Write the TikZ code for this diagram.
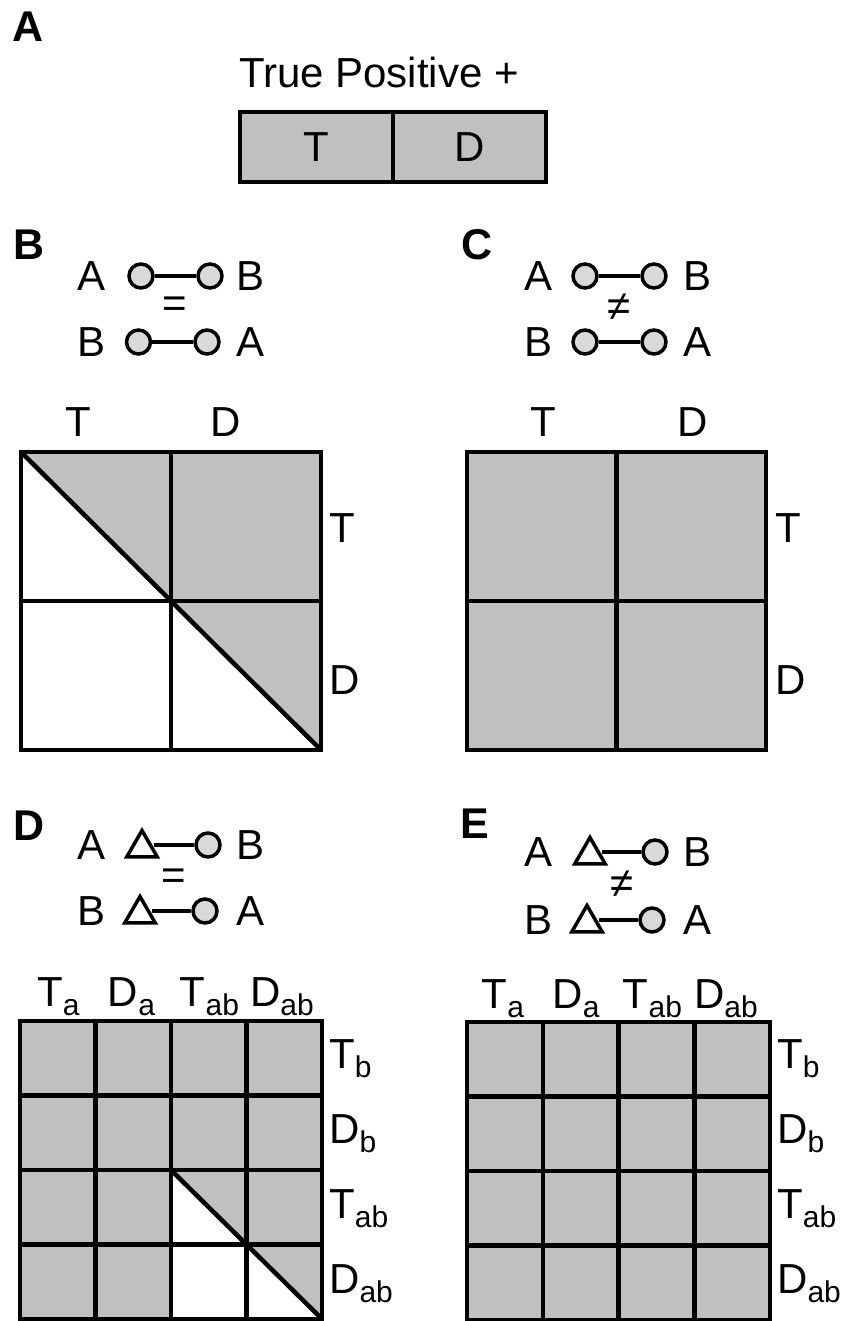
\documentclass[tikz,border=0pt]{standalone}
\usepackage{fontspec}
\setmainfont{Liberation Sans}
\usepackage{xcolor}
\usetikzlibrary{positioning,shapes.geometric}
\definecolor{cellgrey}{RGB}{192,192,192}
\definecolor{dotgrey}{RGB}{217,217,217}
\newcommand{\lsub}[1]{\raisebox{-9pt}{\fontsize{30}{32}\selectfont #1}}

\begin{document}
\begin{tikzpicture}[
x=1pt, y=-1pt,
txt/.style={font=\fontsize{42}{48}\selectfont, inner sep=0pt},
panel/.style={font=\fontsize{43}{48}\selectfont\bfseries, inner sep=0pt, anchor=base west},
half/.style={
rectangle,
draw,
fill=cellgrey,
line width=4.5pt,
outer sep=0pt,
inner sep=0pt,
minimum width=153pt,
minimum height=70pt,
font=\fontsize{42}{48}\selectfont
},
dot/.style={circle, draw, fill=dotgrey, line width=3.5pt, minimum size=24pt, inner sep=0pt},
tri/.style={regular polygon, regular polygon sides=3, draw, line width=3.5pt, minimum size=35pt, inner sep=0pt},
link/.style={line width=3.5pt},
gridline/.style={line width=4.5pt, line cap=rect}
]
\useasboundingbox (0,0) rectangle (842,1321);

% panel labels
\node[panel] (lab-a) at (12,42) {A};
\node[panel] (lab-b) at (13,260) {B};
\node[panel] (lab-c) at (461,260) {C};
\node[panel] (lab-d) at (13,840) {D};
\node[panel] (lab-e) at (460,838) {E};

% A: true positive box
\node[txt, anchor=base] (tp-title) at (379,88) {True Positive +};
\node[half] (tp-t) at (316.5,147) {T};
\node[half, right=0pt of tp-t] (tp-d) {D};

% B, C: circle legends
\foreach \n/\y/\xa/\xb/\xc/\xd/\la/\lb in {b1/276/92/141/210/251/A/B, b2/342/92/138.5/207/251/B/A, c1/276/538/585/654/697/A/B, c2/342/538/585/654/697/B/A}{
  \node[txt] (\n-left) at (\xa,\y) {\la};
  \node[dot] (\n-one) at (\xb,\y) {};
  \node[dot] (\n-two) at (\xc,\y) {};
  \node[txt] (\n-right) at (\xd,\y) {\lb};
  \draw[link] (\n-one) -- (\n-two);
}
\node[txt] (b-eq) at (175,307) {=};
\node[txt] (c-neq) at (619,307) {≠};

% D, E: triangle legends
\foreach \n/\y/\xa/\xb/\xc/\xd/\la/\lb in {d1/845/92/142/208/251/A/B, d2/911/92/140/205/251/B/A, e1/852/538/590/655/697/A/B, e2/920/538/587/652/697/B/A}{
  \node[txt] (\n-left) at (\xa,\y) {\la};
  \node[tri, yshift=-3pt] (\n-one) at (\xb,\y) {};
  \node[dot] (\n-two) at (\xc,\y) {};
  \node[txt] (\n-right) at (\xd,\y) {\lb};
  \draw[link] (\n-one.east |- \n-two) -- (\n-two);
}
\node[txt] (d-eq) at (174,879) {=};
\node[txt] (e-neq) at (622,884) {≠};

% B grid
\fill[cellgrey] (21,452) -- (321,452) -- (321,750) -- cycle;
\draw[gridline] (21,452) rectangle (321,750);
\draw[gridline] (171,452) -- (171,750) (21,601) -- (321,601);
\draw[line width=4.5pt] (21,452) -- (321,750);
\node[txt] (b-col-t) at (78,422) {T};
\node[txt] (b-col-d) at (226,422) {D};
\node[txt, anchor=west] (b-row-t) at (329,528) {T};
\node[txt, anchor=west] (b-row-d) at (329,680) {D};

% C grid
\fill[cellgrey] (467,452) rectangle (766,750);
\draw[gridline] (467,452) rectangle (766,750);
\draw[gridline] (616.5,452) -- (616.5,750) (467,601) -- (766,601);
\node[txt] (c-col-t) at (543,422) {T};
\node[txt] (c-col-d) at (693,422) {D};
\node[txt, anchor=west] (c-row-t) at (775,528) {T};
\node[txt, anchor=west] (c-row-d) at (775,680) {D};

% D grid
\fill[cellgrey] (20,1021) rectangle (322,1319);
\fill[white] (171,1170) -- (322,1319) -- (171,1319) -- cycle;
\foreach \i in {0,...,4}{
  \draw[gridline] ({20+75.5*\i},1021) -- ({20+75.5*\i},1319);
  \draw[gridline] (20,{1021+74.5*\i}) -- (322,{1021+74.5*\i});
}
\draw[line width=4.5pt] (171,1170) -- (322,1319);

% E grid
\fill[cellgrey] (467,1022) rectangle (770,1320);
\foreach \i in {0,...,4}{
  \draw[gridline] ({467+75.75*\i},1022) -- ({467+75.75*\i},1320);
  \draw[gridline] (467,{1022+74.5*\i}) -- (770,{1022+74.5*\i});
}

% column and row labels of D and E
\foreach \x/\t in {58.5/T\lsub{a}, 131.5/D\lsub{a}, 209.5/T\lsub{ab}, 282/D\lsub{ab}}
  \node[txt, anchor=base] at (\x,1006) {\t};
\foreach \x/\t in {503/T\lsub{a}, 576/D\lsub{a}, 652.5/T\lsub{ab}, 726/D\lsub{ab}}
  \node[txt, anchor=base] at (\x,1008) {\t};
\foreach \y/\t in {1068/T\lsub{b}, 1143/D\lsub{b}, 1218/T\lsub{ab}, 1293/D\lsub{ab}}{
  \node[txt, anchor=base west] at (329,\y) {\t};
  \node[txt, anchor=base west] at (777,\y) {\t};
}

\end{tikzpicture}
\end{document}
